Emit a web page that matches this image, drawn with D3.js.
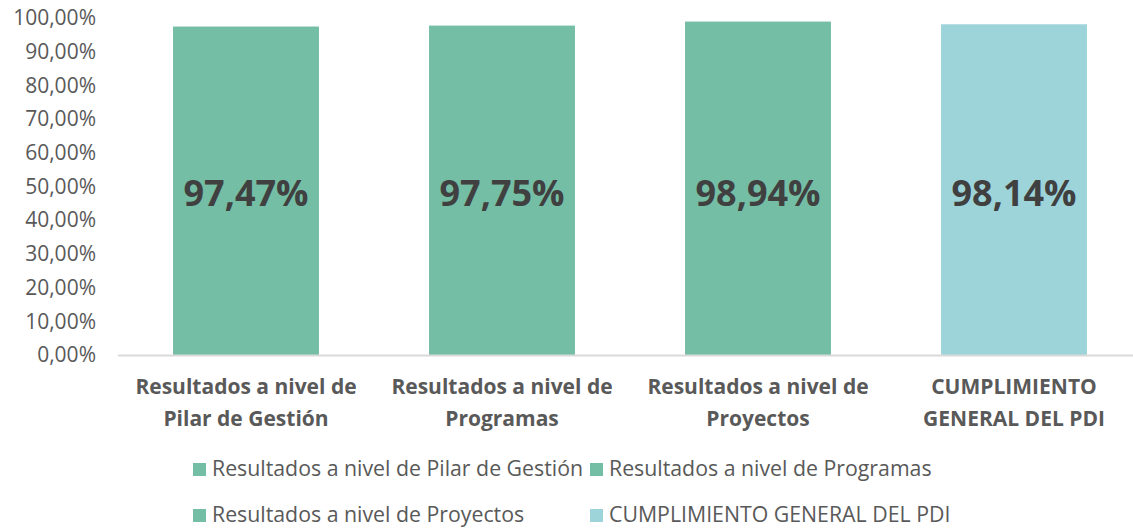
<!DOCTYPE html>
<html>
<head>
<meta charset="utf-8">
<script src="https://cdn.jsdelivr.net/npm/d3@7"></script>
<style>
  body { margin: 0; background: #fff; }
  text { font-family: "Open Sans", "Noto Sans", sans-serif; }
</style>
</head>
<body>
<div id="chart"></div>
<script>
// datos del gráfico
var categorias = [
  ["Resultados a nivel de", "Pilar de Gestión"],
  ["Resultados a nivel de", "Programas"],
  ["Resultados a nivel de", "Proyectos"],
  ["CUMPLIMIENTO", "GENERAL DEL PDI"]
];
var series = ["Resultados a nivel de Pilar de Gestión", "Resultados a nivel de Programas",
              "Resultados a nivel de Proyectos", "CUMPLIMIENTO GENERAL DEL PDI"];
var valores = [0.9747, 0.9775, 0.9894, 0.9814];
var colores = ["#75bea6", "#75bea6", "#75bea6", "#9dd4da"];
var ticks = [0, 0.1, 0.2, 0.3, 0.4, 0.5, 0.6, 0.7, 0.8, 0.9, 1.0];

var w = 1133, h = 529;
var svg = d3.select("#chart")
  .append("svg")
  .attr("width", w)
  .attr("height", h)
  .style("background", "#fff");

var x = d3.scaleBand()
  .domain(d3.range(valores.length))
  .range([118, 1142])
  .paddingInner(0.43)
  .paddingOuter(0.215);

var y = d3.scaleLinear().domain([0, 1]).range([355, 18]);

var fmt = function(v) { return (v * 100).toFixed(2).replace(".", ",") + "%"; };

// eje y
var yAxis = svg.append("g")
  .attr("transform", "translate(96,0)")
  .call(d3.axisLeft(y).tickValues(ticks).tickFormat(fmt).tickSize(0).tickPadding(0));
yAxis.select(".domain").remove();
yAxis.selectAll("text")
  .attr("font-size", 21)
  .attr("fill", "#595959")
  .style("font-family", "'Open Sans', sans-serif");

// barras
svg.selectAll("rect.bar")
  .data(valores)
  .enter()
  .append("rect")
  .attr("class", "bar")
  .attr("x", function(d, i) { return x(i); })
  .attr("width", x.bandwidth())
  .attr("y", function(d) { return y(d); })
  .attr("height", function(d) { return y(0) - y(d); })
  .attr("fill", function(d, i) { return colores[i]; });

// linea base
svg.append("line")
  .attr("x1", 118).attr("x2", w)
  .attr("y1", y(0) + 0.5).attr("y2", y(0) + 0.5)
  .attr("stroke", "#d9d9d9")
  .attr("stroke-width", 2);

// etiquetas de valor
svg.selectAll("text.val")
  .data(valores)
  .enter()
  .append("text")
  .attr("class", "val")
  .attr("x", function(d, i) { return x(i) + x.bandwidth() / 2; })
  .attr("y", 206)
  .attr("text-anchor", "middle")
  .attr("font-size", 36)
  .attr("font-weight", "bold")
  .attr("fill", "#404040")
  .text(fmt);

// etiquetas de categorias
var cat = svg.selectAll("text.cat")
  .data(categorias)
  .enter()
  .append("text")
  .attr("class", "cat")
  .attr("text-anchor", "middle")
  .attr("font-size", 21)
  .attr("font-weight", "bold")
  .attr("fill", "#595959");
cat.each(function(d, i) {
  var t = d3.select(this);
  d.forEach(function(linea, j) {
    t.append("tspan")
      .attr("x", x(i) + x.bandwidth() / 2)
      .attr("y", 394 + j * 32)
      .text(linea);
  });
});

// leyenda
var legX = [193, 590];
var legY = [470, 516];
var leg = svg.selectAll("g.leg")
  .data(series)
  .enter()
  .append("g")
  .attr("class", "leg")
  .attr("transform", function(d, i) { return "translate(" + legX[i % 2] + "," + legY[Math.floor(i / 2)] + ")"; });
leg.append("rect")
  .attr("x", 0).attr("y", -7)
  .attr("width", 13).attr("height", 13)
  .attr("fill", function(d, i) { return colores[i]; });
leg.append("text")
  .attr("x", 19)
  .attr("y", 6)
  .attr("font-size", 21.3)
  .attr("fill", "#595959")
  .text(function(d) { return d; });
</script>
</body>
</html>
